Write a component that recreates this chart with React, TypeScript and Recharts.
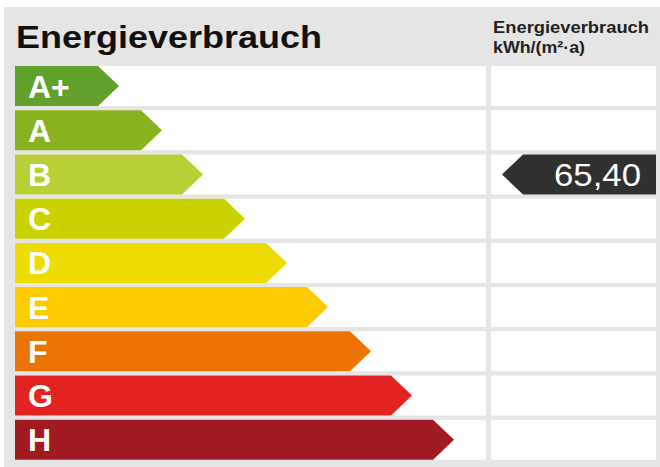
import React from "react";
import { BarChart, Bar, XAxis, YAxis } from "recharts";

const classes = ["A+", "A", "B", "C", "D", "E", "F", "G", "H"];
const barLengths = [104, 147, 188, 230, 272, 313, 356, 397, 439];
const classColors = [
  "#62a02c",
  "#8ab21f",
  "#b8cf35",
  "#cad300",
  "#efdc00",
  "#fecb00",
  "#ec7404",
  "#e32322",
  "#a11a22",
];
const ratingClass = "B";
const consumption = 65.4;

const data = classes.map((c, i) => ({ name: c, length: barLengths[i], color: classColors[i] }));

const FONT = '"Liberation Sans", Arial, sans-serif';
const W = 660;
const H = 467;
const margin = { top: 64, right: 4, bottom: 5, left: 15 };
const domainMax = 641; // plot width in units
const leftColEnd = 471;
const rightColStart = 476;
const plotW = W - margin.left - margin.right;
const px = (u: number) => margin.left + (u * plotW) / domainMax;

const fmt = (v: number) => v.toFixed(2).replace(".", ",");

const RowBackground = (props: any) => {
  const { y, height } = props;
  return (
    <g>
      <rect x={px(0)} y={y} width={px(leftColEnd) - px(0)} height={height} fill="#fff" />
      <rect x={px(rightColStart)} y={y} width={px(domainMax) - px(rightColStart)} height={height} fill="#fff" />
    </g>
  );
};

const ArrowBar = (props: any) => {
  const { x, y, width, height, payload } = props;
  const tip = height / 2 + 1;
  const mid = y + height / 2;
  const pts = [
    [x, y],
    [x + width - tip, y],
    [x + width, mid],
    [x + width - tip, y + height],
    [x, y + height],
  ]
    .map((p) => p.join(","))
    .join(" ");
  const isRating = payload.name === ratingClass;
  const mx0 = px(rightColStart) + 11;
  const mx1 = px(domainMax);
  return (
    <g>
      <polygon points={pts} fill={payload.color} />
      <text
        x={x + 13}
        y={mid + 11.5}
        fill="#fff"
        fontFamily={FONT}
        fontWeight="bold"
        fontSize={32}
      >
        {payload.name}
      </text>
      {isRating && (
        <g>
          <polygon
            points={[
              [mx0, mid],
              [mx0 + tip, y],
              [mx1, y],
              [mx1, y + height],
              [mx0 + tip, y + height],
            ]
              .map((p) => p.join(","))
              .join(" ")}
            fill="#303030"
          />
          <text
            x={mx1 - 15}
            y={mid + 11.5}
            textAnchor="end"
            fill="#fff"
            fontFamily={FONT}
            fontSize={32}
            textLength={87}
            lengthAdjust="spacingAndGlyphs"
          >
            {fmt(consumption)}
          </text>
        </g>
      )}
    </g>
  );
};

export default function App() {
  return (
    <div style={{ position: "absolute", left: 0, top: 0, width: W, height: H, background: "#fff" }}>
      <div
        style={{ position: "absolute", left: 4, top: 7, width: W - 4, height: H - 7, background: "#e5e5e5" }}
      />
      <svg width={W} height={H} style={{ position: "absolute", left: 0, top: 0 }}>
        <text
          x={16}
          y={48}
          fontFamily={FONT}
          fontWeight="bold"
          fontSize={32}
          fill="#111"
          textLength={306}
          lengthAdjust="spacingAndGlyphs"
        >
          Energieverbrauch
        </text>
        <text
          x={493}
          y={33}
          fontFamily={FONT}
          fontWeight="bold"
          fontSize={16}
          fill="#222"
          textLength={156}
          lengthAdjust="spacingAndGlyphs"
        >
          Energieverbrauch
        </text>
        <text
          x={493}
          y={53}
          fontFamily={FONT}
          fontWeight="bold"
          fontSize={16}
          fill="#222"
          textLength={92}
          lengthAdjust="spacingAndGlyphs"
        >
          kWh/(m²·a)
        </text>
      </svg>
      <div style={{ position: "absolute", left: 0, top: 0 }}>
        <BarChart width={W} height={H} data={data} layout="vertical" margin={margin} barSize={40}>
          <XAxis type="number" domain={[0, domainMax]} hide />
          <YAxis type="category" dataKey="name" hide />
          <Bar
            dataKey="length"
            isAnimationActive={false}
            background={RowBackground}
            shape={ArrowBar}
          />
        </BarChart>
      </div>
    </div>
  );
}
